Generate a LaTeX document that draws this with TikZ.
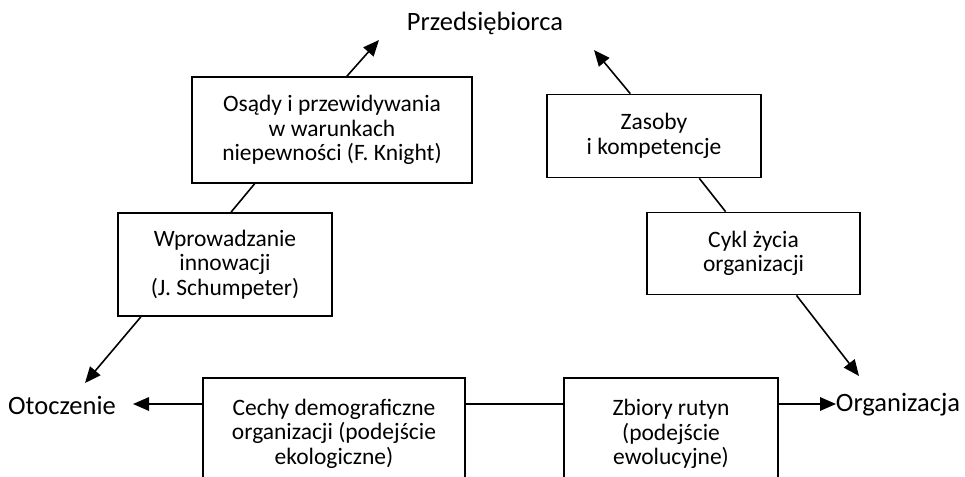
\documentclass[tikz,border=0pt]{standalone}
\usepackage{fontspec}
\setmainfont{Carlito}
\usetikzlibrary{arrows.meta,calc}
\begin{document}
\begin{tikzpicture}[x=1pt,y=-1pt,
  box/.style={draw,line width=1.7pt,align=center,inner sep=0pt,font=\fontsize{23.5}{24.5}\selectfont},
  lbl/.style={inner sep=0pt,font=\fontsize{26.5}{28}\selectfont},
  conn/.style={line width=1.6pt},
  arr/.style={line width=1.6pt,-{Triangle[length=16pt,width=13.5pt]}}]
\useasboundingbox (0,0) rectangle (965,476);
\node[lbl] (przed) at (485,23) {Przedsiębiorca};
\node[lbl] (otocz) at (62,405) {Otoczenie};
\node[lbl] (organ) at (898,405) {Organizacja};
\node[box,minimum width=280,minimum height=106] (osady) at (332,130) {Osądy i przewidywania\\w warunkach\\niepewności (F. Knight)};
\node[box,minimum width=214,minimum height=103] (wpro) at (225,264.5) {Wprowadzanie\\innowacji\\(J. Schumpeter)};
\node[box,minimum width=214,minimum height=83] (zasoby) at (654,136) {Zasoby\\i kompetencje};
\node[box,minimum width=213,minimum height=82] (cykl) at (753.5,253.5) {Cykl życia\\organizacji};
\node[box,minimum width=262,minimum height=112,anchor=north] (cechy) at (334,377) {Cechy demograficzne\\organizacji (podejście\\ekologiczne)};
\node[box,minimum width=214,minimum height=112,anchor=north] (zbiory) at (671,377) {Zbiory rutyn\\(podejście\\ewolucyjne)};
\coordinate (t1) at (379,40);
\coordinate (t2) at (594,50);
\coordinate (t3) at (85,383);
\coordinate (t4) at (859,376);
\coordinate (t5) at (133,404);
\coordinate (t6) at (836,404);
\draw[arr] ($(osady.north west)!0.553!(osady.north east)$) -- (t1);
\draw[arr] ($(zasoby.north west)!0.39!(zasoby.north east)$) -- (t2);
\draw[conn] ($(osady.south west)!0.225!(osady.south east)$) -- ($(wpro.north west)!0.528!(wpro.north east)$);
\draw[arr] ($(wpro.south west)!0.11!(wpro.south east)$) -- (t3);
\draw[conn] ($(zasoby.south west)!0.71!(zasoby.south east)$) -- ($(cykl.north west)!0.37!(cykl.north east)$);
\draw[arr] ($(cykl.south west)!0.70!(cykl.south east)$) -- (t4);
\draw[arr] (cechy.west |- t5) -- (t5);
\draw[conn] (cechy.east |- t5) -- (zbiory.west |- t5);
\draw[arr] (zbiory.east |- t6) -- (t6);
\end{tikzpicture}
\end{document}
